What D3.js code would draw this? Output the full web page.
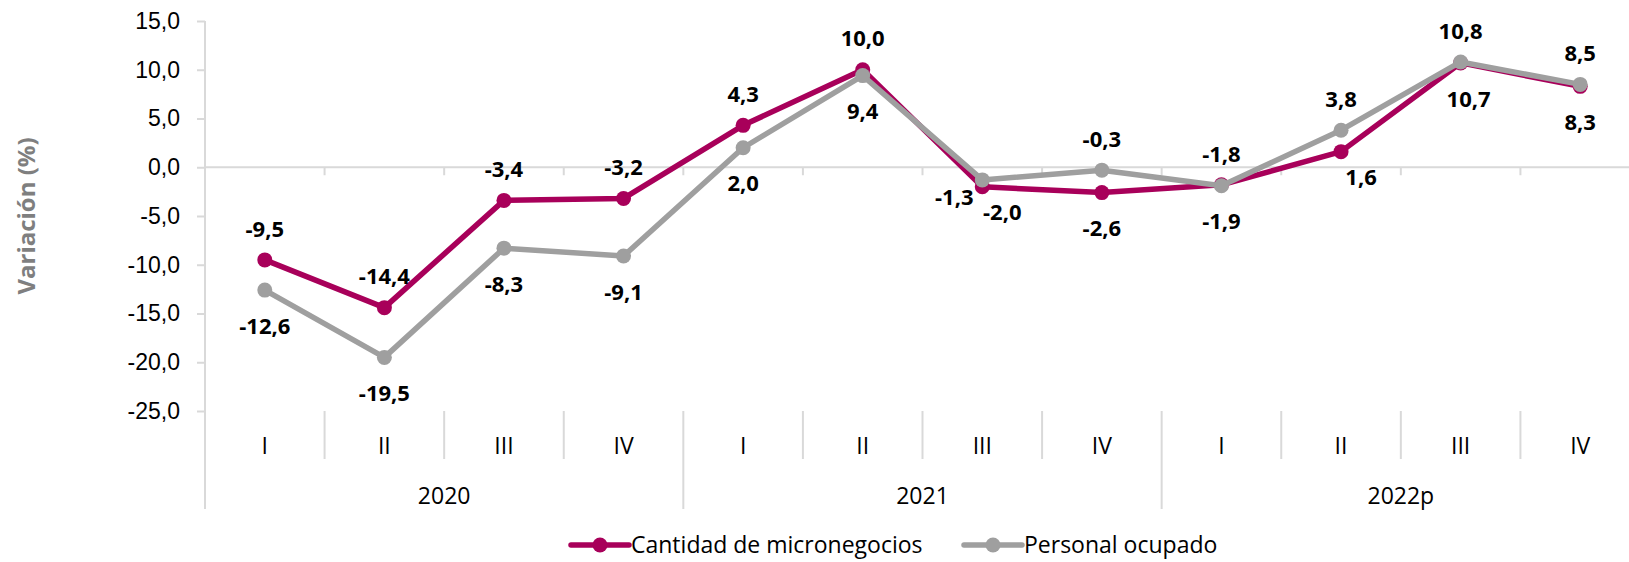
<!DOCTYPE html>
<html>
<head>
<meta charset="utf-8">
<script src="https://cdn.jsdelivr.net/npm/d3@7"></script>
<style>
  body { margin: 0; background: #fff; }
  svg { display: block; font-family: 'Open Sans', 'Noto Sans', sans-serif; }
</style>
</head>
<body>
<div id="chart"></div>
<script>
// data
const quarters = ['I', 'II', 'III', 'IV', 'I', 'II', 'III', 'IV', 'I', 'II', 'III', 'IV']
const years = ['2020', '2021', '2022p']
const cantidad = [-9.5, -14.4, -3.4, -3.2, 4.3, 10.0, -2.0, -2.6, -1.8, 1.6, 10.7, 8.3]
const personal = [-12.6, -19.5, -8.3, -9.1, 2.0, 9.4, -1.3, -0.3, -1.9, 3.8, 10.8, 8.5]
const yTicks = [15, 10, 5, 0, -5, -10, -15, -20, -25]

// label placement (a = above, b = below, others hand placed)
const posCantidad = ['a', 'a', 'a', 'a', 'a', 'a', 'br', 'b', 'a', 'br', 'bs', 'b']
const posPersonal = ['b', 'b', 'b', 'b', 'b', 'b', 'bl', 'a', 'b', 'a', 'a', 'a']

const width = 1629
const height = 562
const marginLeft = 205
const plotRight = 1640
const plotTop = 21
const plotBottom = 411

const magenta = '#a8005a'
const gray = '#9f9f9f'
const axisColor = '#d9d9d9'
const textColor = '#000'

const fmt = v => d3.format('.1f')(v).replace('.', ',').replace('−', '-')

const $svg = d3.select('#chart').append('svg')
  .attr('width', width)
  .attr('height', height)

// scales
const scaleX = d3.scaleBand()
  .domain(d3.range(quarters.length))
  .range([marginLeft, plotRight])
  .padding(0)

const scaleY = d3.scaleLinear()
  .domain([-25, 15])
  .range([plotBottom, plotTop])

const cx = i => scaleX(i) + scaleX.bandwidth() / 2

// y axis
const yAxis = d3.axisLeft(scaleY)
  .tickValues(yTicks)
  .tickSize(8)
  .tickPadding(17)
  .tickFormat(fmt)

const $yAxis = $svg.append('g')
  .attr('transform', `translate(${marginLeft}, 0)`)
  .call(yAxis)

$yAxis.select('.domain').remove()
$yAxis.selectAll('line').attr('stroke', axisColor).attr('stroke-width', 2)
$yAxis.selectAll('text')
  .style('font-size', '23px')
  .attr('fill', textColor)

// axis line continues down through the category labels
$svg.append('line')
  .attr('x1', marginLeft).attr('x2', marginLeft)
  .attr('y1', plotTop).attr('y2', 509)
  .attr('stroke', axisColor).attr('stroke-width', 2)

// zero line with small ticks
$svg.append('line')
  .attr('x1', marginLeft).attr('x2', plotRight)
  .attr('y1', scaleY(0)).attr('y2', scaleY(0))
  .attr('stroke', axisColor).attr('stroke-width', 2)

$svg.append('g')
  .selectAll('line')
  .data(d3.range(1, quarters.length))
  .join('line')
  .attr('x1', i => scaleX(i)).attr('x2', i => scaleX(i))
  .attr('y1', scaleY(0)).attr('y2', scaleY(0) + 8)
  .attr('stroke', axisColor).attr('stroke-width', 2)

// category separators
$svg.append('g')
  .selectAll('line')
  .data(d3.range(1, quarters.length))
  .join('line')
  .attr('x1', i => scaleX(i)).attr('x2', i => scaleX(i))
  .attr('y1', plotBottom)
  .attr('y2', i => i % 4 === 0 ? 509 : 459)
  .attr('stroke', axisColor).attr('stroke-width', 2)

$svg.append('g')
  .selectAll('text')
  .data(quarters)
  .join('text')
  .attr('x', (d, i) => cx(i))
  .attr('y', 446)
  .attr('dy', '0.35em')
  .attr('text-anchor', 'middle')
  .style('font-size', '23px')
  .text(d => d)

$svg.append('g')
  .selectAll('text')
  .data(years)
  .join('text')
  .attr('x', (d, i) => (scaleX(i * 4) + scaleX(i * 4 + 3) + scaleX.bandwidth()) / 2)
  .attr('y', 496)
  .attr('dy', '0.35em')
  .attr('text-anchor', 'middle')
  .style('font-size', '23px')
  .text(d => d)

// axis title
$svg.append('text')
  .attr('transform', `translate(27, ${(plotTop + plotBottom) / 2}) rotate(-90)`)
  .attr('text-anchor', 'middle')
  .attr('dy', '0.35em')
  .style('font-size', '24px')
  .style('font-weight', 700)
  .attr('fill', '#7f7f7f')
  .text('Variación (%)')

// series
const series = [
  { name: 'Personal ocupado', values: personal, color: gray, pos: posPersonal },
  { name: 'Cantidad de micronegocios', values: cantidad, color: magenta, pos: posCantidad }
]

const line = d3.line()
  .x((d, i) => cx(i))
  .y(d => scaleY(d))

// magenta first, gray drawn on top (as in reference)
const drawOrder = [series[1], series[0]]

drawOrder.forEach(s => {
  const $g = $svg.append('g')
  $g.append('path')
    .datum(s.values)
    .attr('d', line)
    .attr('fill', 'none')
    .attr('stroke', s.color)
    .attr('stroke-width', 5.5)
    .attr('stroke-linejoin', 'round')
  $g.selectAll('circle')
    .data(s.values)
    .join('circle')
    .attr('cx', (d, i) => cx(i))
    .attr('cy', d => scaleY(d))
    .attr('r', 7.5)
    .attr('fill', s.color)
})

// data labels
function labelOffset(p) {
  if (p === 'a') return [0, -31]
  if (p === 'b') return [0, 36]
  if (p === 'bs') return [8, 36]
  if (p === 'br') return [20, 26]
  if (p === 'bl') return [-28, 17]
  return [0, 0]
}

series.forEach(s => {
  $svg.append('g')
    .selectAll('text')
    .data(s.values)
    .join('text')
    .attr('x', (d, i) => cx(i) + labelOffset(s.pos[i])[0])
    .attr('y', (d, i) => scaleY(d) + labelOffset(s.pos[i])[1])
    .attr('dy', '0.35em')
    .attr('text-anchor', 'middle')
    .style('font-size', '22px')
    .style('font-weight', 700)
    .text(d => fmt(d))
})

// legend
const legendItems = [
  { name: 'Cantidad de micronegocios', color: magenta, x: 571 },
  { name: 'Personal ocupado', color: gray, x: 964 }
]
const legendY = 545

const $legend = $svg.append('g')
  .selectAll('g')
  .data(legendItems)
  .join('g')
  .attr('transform', d => `translate(${d.x}, ${legendY})`)

$legend.append('line')
  .attr('x1', 0).attr('x2', 58)
  .attr('stroke', d => d.color)
  .attr('stroke-width', 5.5)
  .attr('stroke-linecap', 'round')
$legend.append('circle')
  .attr('cx', 29)
  .attr('r', 7.5)
  .attr('fill', d => d.color)
$legend.append('text')
  .attr('x', 60)
  .attr('dy', '0.35em')
  .style('font-size', '23px')
  .text(d => d.name)
</script>
</body>
</html>
